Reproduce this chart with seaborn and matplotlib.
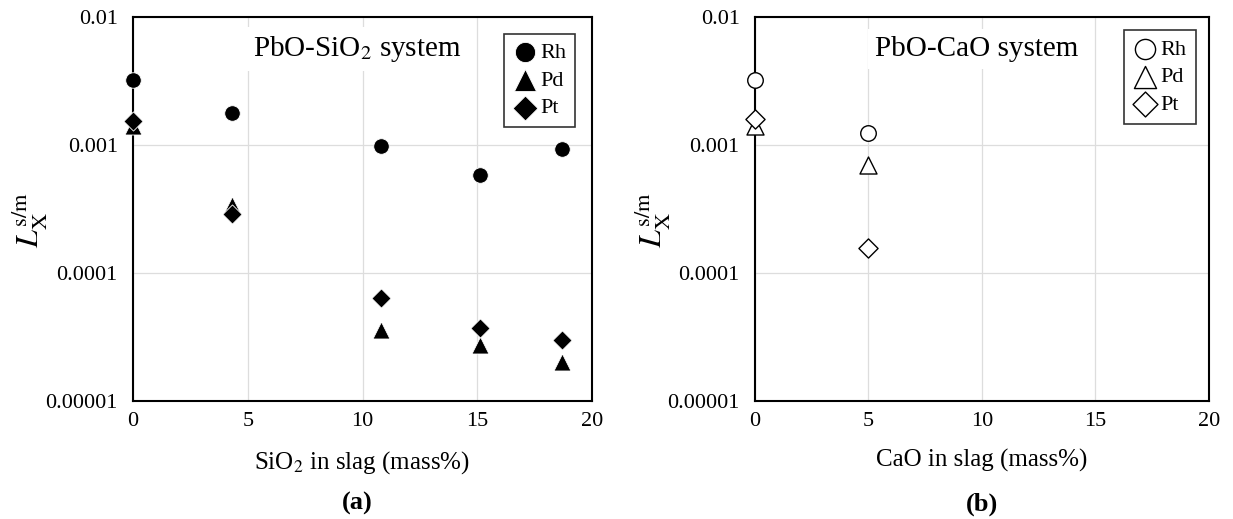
import matplotlib
matplotlib.use("Agg")
import matplotlib.pyplot as plt
import matplotlib.ticker as mticker
import seaborn as sns
import numpy as np

# ---- data ----
sio2_x = [0.0, 4.3, 10.8, 15.1, 18.7]
sio2_rh = [0.0032, 0.00178, 0.00098, 0.00058, 0.00093]
sio2_pd = [0.0014, 0.00034, 0.000036, 0.0000275, 0.00002]
sio2_pt = [0.00155, 0.00029, 0.000064, 0.000037, 0.0000297]

cao_x = [0.0, 5.0]
cao_rh = [0.0032, 0.00124]
cao_pd = [0.0014, 0.0007]
cao_pt = [0.0016, 0.000158]

elements = ["Rh", "Pd", "Pt"]
markers = ["o", "^", "D"]
y_ticks = [0.00001, 0.0001, 0.001, 0.01]
y_tick_labels = ["0.00001", "0.0001", "0.001", "0.01"]
x_ticks = [0, 5, 10, 15, 20]

sns.set_style("white")
plt.rcParams["font.family"] = ["Liberation Serif", "DejaVu Serif"]
plt.rcParams["mathtext.fontset"] = "stix"
plt.rcParams["text.color"] = "black"
plt.rcParams["axes.labelcolor"] = "black"
plt.rcParams["xtick.color"] = "black"
plt.rcParams["ytick.color"] = "black"

fig = plt.figure(figsize=(12.33, 5.19), dpi=100)
ax1 = fig.add_axes([0.1079, 0.2274, 0.3722, 0.7398])
ax2 = fig.add_axes([0.6123, 0.2274, 0.3682, 0.7398])

sizes = {"o": 125, "^": 150, "D": 95}


def draw(ax, x, series, filled, title, xlabel, bap):
    for name, m, ys in zip(elements, markers, series):
        if filled:
            sns.scatterplot(x=x, y=ys, ax=ax, marker=m, s=sizes[m], color="black",
                            edgecolor="white", linewidth=0.6, label=name,
                            clip_on=False, zorder=5)
        else:
            sns.scatterplot(x=x, y=ys, ax=ax, marker=m, s=sizes[m], facecolor="white",
                            edgecolor="black", linewidth=1.0, label=name,
                            clip_on=False, zorder=5)
    ax.set_yscale("log")
    ax.set_ylim(1e-5, 1e-2)
    ax.set_xlim(0, 20)
    ax.set_xticks(x_ticks)
    ax.set_yticks(y_ticks)
    ax.yaxis.set_major_formatter(mticker.FixedFormatter(y_tick_labels))
    ax.yaxis.set_minor_locator(mticker.NullLocator())
    ax.grid(True, color="#dddddd", linewidth=0.9)
    ax.set_axisbelow(True)
    ax.tick_params(axis="both", direction="in", length=5, width=1.3, labelsize=16,
                   colors="black", pad=8)
    ax.tick_params(axis="y", pad=11)
    for sp in ax.spines.values():
        sp.set_visible(True)
        sp.set_color("black")
        sp.set_linewidth(1.5)
    ax.set_xlabel(xlabel, fontsize=18, labelpad=13)
    ax.set_ylabel(r"$L_{\mathrm{X}}^{\mathrm{s/m}}$", fontsize=23)
    ax.yaxis.set_label_coords(-0.183, 0.47)
    ax.text(0.488, 0.916, title, transform=ax.transAxes, fontsize=21,
            ha="center", va="center", zorder=3,
            bbox=dict(facecolor="white", edgecolor="none", pad=5))
    leg = ax.legend(loc="upper right", fontsize=16, frameon=True, fancybox=False,
                    borderaxespad=bap, handletextpad=0.15, handlelength=1.1,
                    labelspacing=0.32, borderpad=0.4, markerscale=1.3)
    leg.get_frame().set_edgecolor("black")
    leg.get_frame().set_linewidth(1.2)
    leg.set_zorder(10)


draw(ax1, sio2_x, [sio2_rh, sio2_pd, sio2_pt], True,
     r"PbO-SiO$_2$ system", r"SiO$_2$ in slag (mass%)", 0.75)
draw(ax2, cao_x, [cao_rh, cao_pd, cao_pt], False,
     "PbO-CaO system", "CaO in slag (mass%)", 0.6)

fig.text(0.2895, 0.029, "(a)", fontsize=19, fontweight="bold", ha="center", va="center")
fig.text(0.7964, 0.029, "(b)", fontsize=19, fontweight="bold", ha="center", va="center")

fig.savefig("out.png", dpi=100, facecolor="white")
